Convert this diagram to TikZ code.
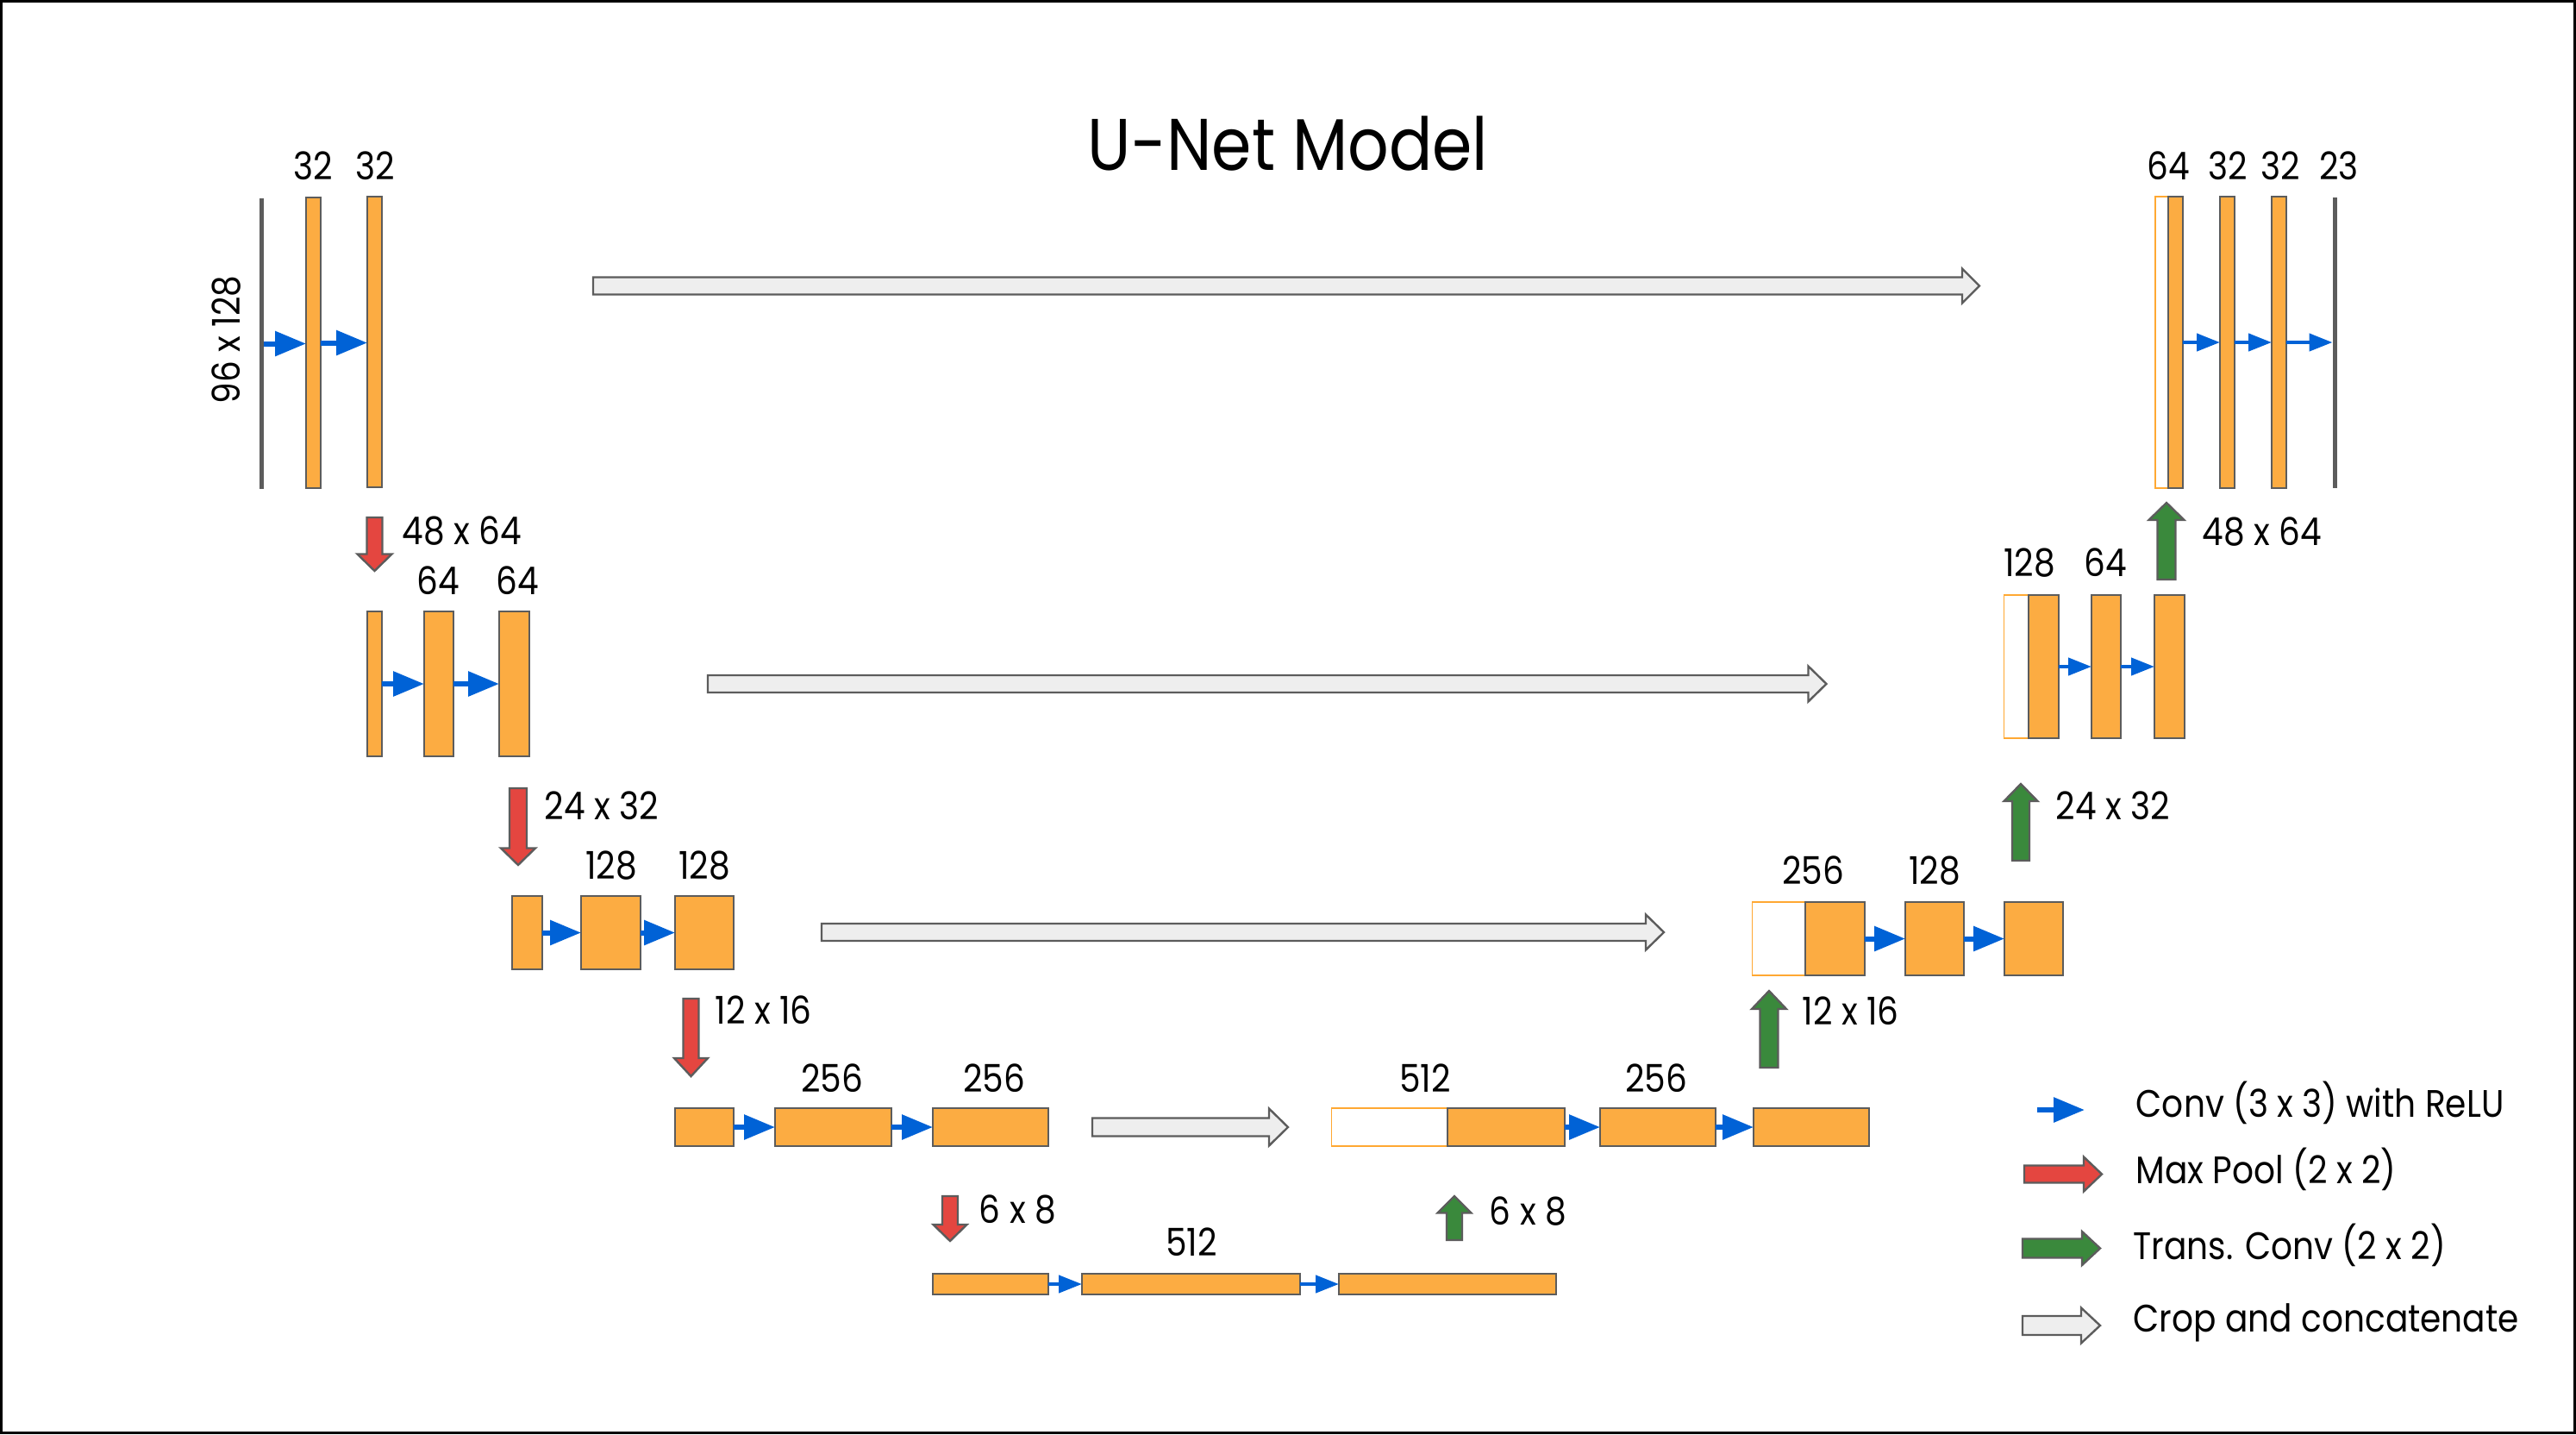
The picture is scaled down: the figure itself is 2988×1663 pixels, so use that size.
\documentclass[tikz,border=0pt]{standalone}
\usepackage{fontspec}
\setmainfont{Poppins}[FakeStretch=0.88]
\usetikzlibrary{arrows.meta}
\definecolor{blkfill}{RGB}{252,172,66}
\definecolor{bordergray}{RGB}{92,92,92}
\definecolor{catorange}{RGB}{255,168,50}
\definecolor{convblue}{RGB}{0,98,214}
\definecolor{poolred}{RGB}{228,70,64}
\definecolor{upgreen}{RGB}{58,137,60}
\definecolor{cropgray}{RGB}{238,238,238}
\tikzset{
  blk/.style={draw=bordergray, fill=blkfill, line width=0.5pt, inner sep=0pt, outer sep=0pt},
  catbox/.style={draw=catorange, line width=0.4pt, inner sep=0pt, outer sep=0pt},
  iobar/.style={fill=bordergray, inner sep=0pt, outer sep=0pt},
  conv/.style={draw=convblue, line width=1.5pt, -{Triangle[length=9pt,width=7pt]}},
  convs/.style={draw=convblue, line width=1.1pt, -{Triangle[length=6.75pt,width=5pt]}},
  lbl/.style={inner sep=0pt, font=\fontsize{11.1}{13}\selectfont, anchor=base},
  lbll/.style={lbl, anchor=base west},
  poolarrow/.style={fill=poolred, draw=bordergray, line width=0.6pt, line join=miter},
  uparrow/.style={fill=upgreen, draw=bordergray, line width=0.6pt, line join=miter},
  croparrow/.style={fill=cropgray, draw=bordergray, line width=0.6pt, line join=miter},
}
% style, name, x1, y1, x2, y2 (pixel units, y downward)
\newcommand\blkbox[6]{\node[#1, minimum width={(#5-#3)*0.25pt}, minimum height={(#6-#4)*0.25pt}] (#2) at ({(#3+#5)/2},{(#4+#6)/2}) {};}
% vertical fat arrow: style, x, ystart, ytip, yheadbase, shaft half, head half
\newcommand\fatV[7]{\draw[#1] ({#2-#6},#3) -- ({#2-#6},#5) -- ({#2-#7},#5) -- (#2,#4) -- ({#2+#7},#5) -- ({#2+#6},#5) -- ({#2+#6},#3) -- cycle;}
% horizontal fat arrow: style, y, xstart, xtip, xheadbase, shaft half, head half
\newcommand\fatH[7]{\draw[#1] (#3,{#2-#6}) -- (#5,{#2-#6}) -- (#5,{#2-#7}) -- (#4,#2) -- (#5,{#2+#7}) -- (#5,{#2+#6}) -- (#3,{#2+#6}) -- cycle;}
\begin{document}
\begin{tikzpicture}[x=0.25pt, y=-0.25pt]
\useasboundingbox (0,0) rectangle (2988,1663);
\draw[black, line width=0.75pt] (1.5,1.5) rectangle (2986.5,1661.5);

% title
\node[inner sep=0pt, anchor=base, font=\fontsize{21.2}{25}\selectfont] (title) at (1494,197) {U-Net Model};

% ---------- level 1 left ----------
\blkbox{iobar}{in}{300.5}{230}{305.5}{567}
\blkbox{blk}{L1a}{355}{229}{372}{566}
\blkbox{blk}{L1b}{426}{228}{443}{565}
\draw[conv] (in.east) -- (in.east -| L1a.west);
\draw[conv] (L1a.east) -- (L1a.east -| L1b.west);
\node[lbl] (t1a) at (363,208) {32};
\node[lbl] (t1b) at (435,208) {32};
\node[lbl, rotate=90] (tin) at (278,394) {96 x 128};

% skip 1
\fatH{croparrow}{331.5}{688}{2296}{2276}{10}{20}

% ---------- level 1 right ----------
\blkbox{catbox}{R1o}{2500}{228}{2515}{566}
\blkbox{blk}{R1a}{2515}{228}{2532}{566}
\blkbox{blk}{R1b}{2575}{228}{2592}{566}
\blkbox{blk}{R1c}{2635}{228}{2652}{566}
\blkbox{iobar}{out}{2705.5}{229}{2710.5}{566}
\draw[convs] (R1a.east) -- (R1a.east -| R1b.west);
\draw[convs] (R1b.east) -- (R1b.east -| R1c.west);
\draw[convs] (R1c.east) -- (R1c.east -| out.west);
\node[lbl] (t1o) at (2515,208) {64};
\node[lbl] (t1p) at (2584,208) {32};
\node[lbl] (t1q) at (2645,208) {32};
\node[lbl] (t1r) at (2713,208) {23};

% down 1
\fatV{poolarrow}{434.5}{600}{662}{642.5}{9}{20}
\node[lbll] (d1) at (466,631) {48 x 64};

% ---------- level 2 left ----------
\blkbox{blk}{L2a}{426}{709}{443}{877}
\blkbox{blk}{L2b}{492}{709}{526}{877}
\blkbox{blk}{L2c}{579}{709}{614}{877}
\draw[conv] (L2a.east) -- (L2a.east -| L2b.west);
\draw[conv] (L2b.east) -- (L2b.east -| L2c.west);
\node[lbl] (t2a) at (508,689) {64};
\node[lbl] (t2b) at (600,689) {64};

% skip 2
\fatH{croparrow}{793}{821}{2118.5}{2097.5}{10}{20.5}

% ---------- level 2 right ----------
\blkbox{catbox}{R2o}{2324.5}{690}{2353}{856}
\blkbox{blk}{R2a}{2353}{690}{2388}{856}
\blkbox{blk}{R2b}{2426}{690}{2460}{856}
\blkbox{blk}{R2c}{2499}{690}{2534}{856}
\draw[convs] (R2a.east) -- (R2a.east -| R2b.west);
\draw[convs] (R2b.east) -- (R2b.east -| R2c.west);
\node[lbl] (t2o) at (2354,668) {128};
\node[lbl] (t2p) at (2442,668) {64};

% up 1
\fatV{uparrow}{2513}{672}{583}{603}{10.5}{20.5}
\node[lbll] (u1) at (2554,632) {48 x 64};

% down 2
\fatV{poolarrow}{601}{914}{1003}{983.5}{10}{20}
\node[lbll] (d2) at (631,950) {24 x 32};

% ---------- level 3 left ----------
\blkbox{blk}{L3a}{594}{1039}{629}{1124}
\blkbox{blk}{L3b}{674}{1039}{743}{1124}
\blkbox{blk}{L3c}{783}{1039}{851}{1124}
\draw[conv] (L3a.east) -- (L3a.east -| L3b.west);
\draw[conv] (L3b.east) -- (L3b.east -| L3c.west);
\node[lbl] (t3a) at (709,1019) {128};
\node[lbl] (t3b) at (817,1019) {128};

% skip 3
\fatH{croparrow}{1081}{953}{1930}{1909}{10}{20.5}

% ---------- level 3 right ----------
\blkbox{catbox}{R3o}{2032.5}{1046}{2094}{1131}
\blkbox{blk}{R3a}{2094}{1046}{2163}{1131}
\blkbox{blk}{R3b}{2210}{1046}{2277.5}{1131}
\blkbox{blk}{R3c}{2325}{1046}{2393}{1131}
\draw[conv] (R3a.east) -- (R3a.east -| R3b.west);
\draw[conv] (R3b.east) -- (R3b.east -| R3c.west);
\node[lbl] (t3o) at (2103,1025) {256};
\node[lbl] (t3p) at (2244,1025) {128};

% up 2
\fatV{uparrow}{2344}{998}{909}{929}{10}{19.5}
\node[lbll] (u2) at (2384,950) {24 x 32};

% down 3
\fatV{poolarrow}{801.5}{1158}{1248}{1227}{9}{19.5}
\node[lbll] (d3) at (829,1187) {12 x 16};

% ---------- level 4 left ----------
\blkbox{blk}{L4a}{783}{1285}{851}{1329}
\blkbox{blk}{L4b}{899}{1285}{1034}{1329}
\blkbox{blk}{L4c}{1082}{1285}{1216}{1329}
\draw[conv] (L4a.east) -- (L4a.east -| L4b.west);
\draw[conv] (L4b.east) -- (L4b.east -| L4c.west);
\node[lbl] (t4a) at (965,1266) {256};
\node[lbl] (t4b) at (1153,1266) {256};

% skip 4
\fatH{croparrow}{1307}{1267}{1494}{1472}{10.5}{21.5}

% ---------- level 4 right ----------
\blkbox{catbox}{R4o}{1544.5}{1285}{1679}{1329}
\blkbox{blk}{R4a}{1679}{1285}{1815}{1329}
\blkbox{blk}{R4b}{1856}{1285}{1990}{1329}
\blkbox{blk}{R4c}{2034}{1285}{2168}{1329}
\draw[conv] (R4a.east) -- (R4a.east -| R4b.west);
\draw[conv] (R4b.east) -- (R4b.east -| R4c.west);
\node[lbl] (t4o) at (1653,1266) {512};
\node[lbl] (t4p) at (1921,1266) {256};

% up 3
\fatV{uparrow}{2052}{1238}{1149}{1170}{10.5}{20}
\node[lbll] (u3) at (2090,1188) {12 x 16};

% down 4
\fatV{poolarrow}{1102}{1387}{1439}{1420}{9}{19.5}
\node[lbll] (d4) at (1135,1418) {6 x 8};

% up 4
\fatV{uparrow}{1687}{1438}{1387}{1406.5}{9}{19.5}
\node[lbll] (u4) at (1727,1420) {6 x 8};

% ---------- bottom ----------
\blkbox{blk}{B1}{1082}{1477}{1216}{1501}
\blkbox{blk}{B2}{1255}{1477}{1507.5}{1501}
\blkbox{blk}{B3}{1553}{1477}{1805}{1501}
\draw[convs] (B1.east) -- (B1.east -| B2.west);
\draw[convs] (B2.east) -- (B2.east -| B3.west);
\node[lbl] (tb) at (1382,1456) {512};

% ---------- legend ----------
\coordinate (lgA) at (2363,1287);
\coordinate (lgB) at (2418,1287);
\draw[conv] (lgA) -- (lgB);
\node[lbll] (lg1) at (2477,1295) {Conv (3 x 3) with ReLU};
\fatH{poolarrow}{1361.5}{2348}{2438}{2417}{10}{20}
\node[lbll] (lg2) at (2477,1372.5) {Max Pool (2 x 2)};
\fatH{uparrow}{1447.5}{2346}{2436}{2415}{11}{19.5}
\node[lbll] (lg3) at (2474,1460.5) {Trans. Conv (2 x 2)};
\fatH{croparrow}{1537}{2346}{2436}{2414}{11}{20.5}
\node[lbll] (lg4) at (2474,1544) {Crop and concatenate};
\end{tikzpicture}
\end{document}
